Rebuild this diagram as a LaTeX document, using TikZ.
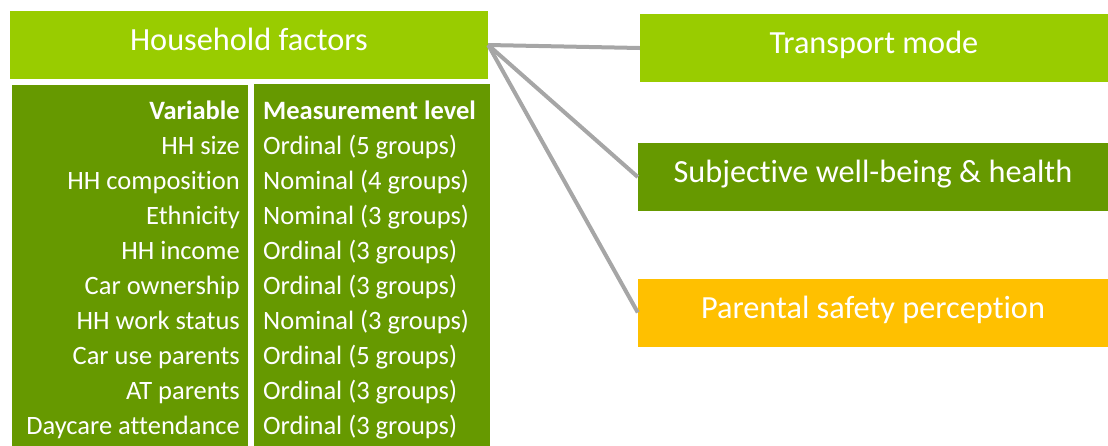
\documentclass[tikz,border=0pt]{standalone}
\usepackage{fontspec}
\setmainfont{Carlito}[Ligatures=NoCommon]
\definecolor{lightgreen}{HTML}{99CC00}
\definecolor{darkgreen}{HTML}{669900}
\definecolor{gold}{HTML}{FFC000}
\definecolor{linkgray}{HTML}{A6A6A6}
\tikzset{
  factor/.style={fill=#1, text=white, inner sep=0pt, minimum height=68pt,
                 text height=24pt, text depth=13pt,
                 font=\fontsize{32.3}{38}\selectfont},
  column/.style={fill=darkgreen, inner sep=0pt, anchor=north west,
                 minimum width=236pt, minimum height=365pt},
  cell/.style={text=white, inner sep=0pt, font=\fontsize{26.5}{31}\selectfont},
  link/.style={draw=linkgray, line width=4pt},
}

\begin{document}
\begin{tikzpicture}[x=1pt, y=-1pt]
  \useasboundingbox (0,0) rectangle (1108,445);

  % household box and its table
  \node[factor=lightgreen, minimum width=478pt] (hh) at (249,45) {Household factors};
  \node[column] (varcol) at (12,85) {};
  \node[column] (lvlcol) at (254,84) {};
  \node[cell, anchor=base east] (varhead) at (240,119) {\bfseries Variable};
  \node[cell, anchor=base west] (lvlhead) at (263,119) {\bfseries Measurement level};
  \foreach \var/\lvl [count=\i] in {HH size/Ordinal (5 groups),
      HH composition/Nominal (4 groups), Ethnicity/Nominal (3 groups),
      HH income/Ordinal (3 groups), Car ownership/Ordinal (3 groups),
      HH work status/Nominal (3 groups), Car use parents/Ordinal (5 groups),
      AT parents/Ordinal (3 groups), Daycare attendance/Ordinal (3 groups)} {
    \node[cell, anchor=base east] (var\i) at (240,119+35.1*\i) {\var};
    \node[cell, anchor=base west] (lvl\i) at (263,119+35.1*\i) {\lvl};
  }

  % outcomes
  \node[factor=lightgreen, minimum width=468pt] (mode) at (874,48) {Transport mode};
  \node[factor=darkgreen, minimum width=470pt] (swb) at (873,177) {Subjective well-being \& health};
  \node[factor=gold, minimum width=470pt] (safety) at (873,312.5) {Parental safety perception};

  % links
  \draw[link] (hh.east) -- (mode.west);
  \draw[link] (hh.east) -- (swb.west);
  \draw[link] (hh.east) -- (safety.west);
\end{tikzpicture}
\end{document}
